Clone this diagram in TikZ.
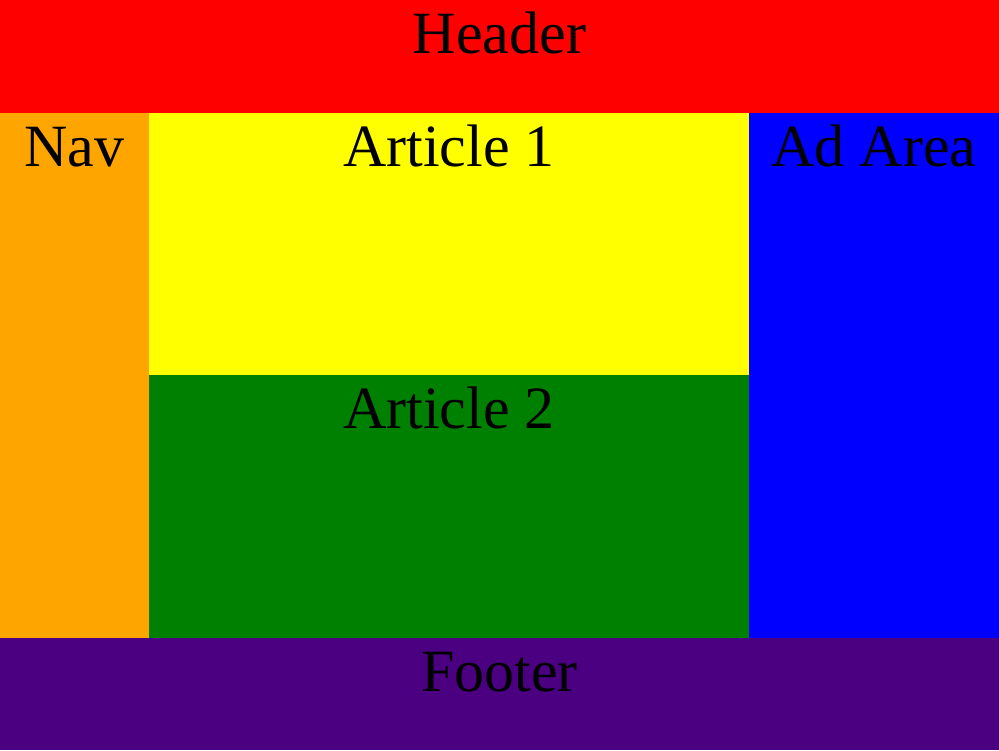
\documentclass[tikz,border=0pt]{standalone}
\usepackage{fontspec}
\setmainfont{Liberation Serif}
\definecolor{hdr}{HTML}{FF0000}
\definecolor{nav}{HTML}{FFA500}
\definecolor{art1}{HTML}{FFFF00}
\definecolor{art2}{HTML}{008000}
\definecolor{ad}{HTML}{0000FF}
\definecolor{ftr}{HTML}{4B0082}
\tikzset{
  lbl/.style={anchor=base, inner sep=0pt, font=\fontsize{60}{72}\selectfont, text=black},
  region/.style={draw=none}
}
\begin{document}
\begin{tikzpicture}[x=1pt,y=-1pt]
\useasboundingbox (0,0) rectangle (999,750);
\fill[hdr] (0,0) rectangle (999,113);
\fill[nav] (0,113) rectangle (149,638);
\fill[art1] (149,113) rectangle (749,375);
\fill[art2] (149,375) rectangle (749,638);
\fill[ad] (749,113) rectangle (999,638);
\fill[ftr] (0,638) rectangle (999,750);
\node[lbl] (header) at (499.5,53) {Header};
\node[lbl] (navl) at (74.5,166) {Nav};
\node[lbl] (a1) at (449,166) {Article 1};
\node[lbl] (a2) at (449,428) {Article 2};
\node[lbl] (adl) at (874,166) {Ad Area};
\node[lbl] (footer) at (499.5,691) {Footer};
\end{tikzpicture}
\end{document}
